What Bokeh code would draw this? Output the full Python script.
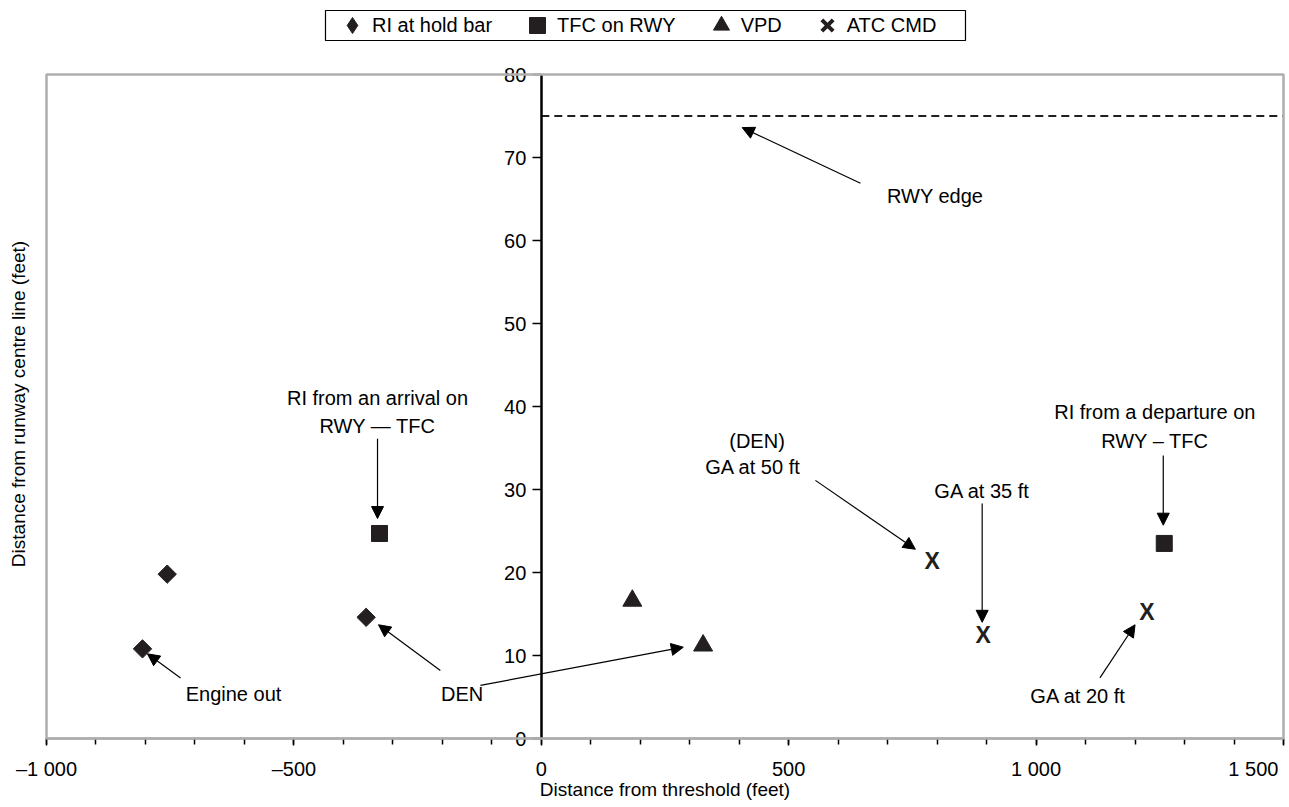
from bokeh.plotting import figure
from bokeh.models import (Range1d, LinearAxis, SingleIntervalTicker, FixedTicker, BoxAnnotation,
                          Arrow, NormalHead, Legend, LegendItem, ColumnDataSource)
from bokeh.core.properties import value
from bokeh.embed import file_html
from bokeh.resources import INLINE

# ---------------- data ----------------
hold_x = [-756, -806, -354]
hold_y = [19.8, 10.8, 14.6]
tfc_x = [-327, 1259]
tfc_y = [24.7, 23.5]
vpd_x = [184, 327]
vpd_y = [16.6, 11.2]
atc_x = [790, 893, 1224]
atc_y = [21.4, 12.5, 15.2]

rwy_edge_x = [0, 1500]
rwy_edge_y = [75, 75]

x_ticks = [-1000, -500, 0, 500, 1000, 1500]
x_tick_labels = ["\u20131 000", "\u2013500", "0", "500", "1 000", "1 500" + "\u00a0" * 2]
y_ticks = [0, 10, 20, 30, 40, 50, 60, 70, 80]

legend_labels = ["RI at hold bar", "TFC on RWY", "VPD", "ATC CMD"]

note_text = ["RWY edge", "RI from an arrival on", "RWY \u2014 TFC", "Engine out", "DEN",
             "(DEN)", "GA at 50 ft", "GA at 35 ft", "RI from a departure on",
             "RWY \u2013 TFC", "GA at 20 ft"]
note_x = [796, -331, -331, -622, -160, 436, 428, 891, 1240, 1240, 1085]
note_y = [65.4, 41.0, 37.7, 5.4, 5.4, 35.8, 32.7, 29.8, 39.3, 35.8, 5.1]

arrow_x0 = [645, -331, -729, -204, -123, 554, 891, 1257, 1129]
arrow_y0 = [66.9, 36.1, 7.3, 8.2, 6.4, 31.1, 28.3, 34.1, 7.3]
arrow_x1 = [406, -331, -796, -329, 287, 756, 891, 1257, 1200]
arrow_y1 = [73.6, 26.5, 10.2, 13.7, 11.0, 22.8, 14.0, 25.7, 13.7]

X_MIN, X_MAX, Y_MIN, Y_MAX = -1000, 1500, 0, 80

# ---------------- layout (pixels) ----------------
W, H = 1289, 807
FL, FR, FT, FB = 46, 1283, 74, 738          # chart box edges on the page
LEG_L, LEG_R, LEG_T, LEG_B = 325, 965, 10, 40  # legend frame on the page
xu = (X_MAX - X_MIN) / (FR - FL)
yu = (Y_MAX - Y_MIN) / (FB - FT)
x0_data = X_MIN - FL * xu
y_top_data = Y_MAX + FT * yu
x_range = Range1d(x0_data, X_MAX + (W - FR) * xu)
y_range = Range1d(Y_MIN - (H - FB) * yu, y_top_data)


def px_x(px):
    return x0_data + px * xu


def px_y(py):
    return y_top_data - py * yu


FONT = "Liberation Sans"
INK = "#231f20"
GREY = "#aeaeae"

p = figure(width=W, height=H, x_range=x_range, y_range=y_range,
           output_backend="svg", toolbar_location=None,
           x_axis_location=None, y_axis_location=None, min_border=0)
p.grid.visible = False
p.outline_line_color = None
p.background_fill_color = "white"
p.border_fill_color = "white"

# grey chart box
p.add_layout(BoxAnnotation(left=X_MIN, right=X_MAX, bottom=Y_MIN, top=Y_MAX,
                           fill_alpha=0, line_color=GREY, line_alpha=1, line_width=2.5))

# x axis along y = 0
xa = LinearAxis(fixed_location=0, bounds=(X_MIN, X_MAX),
                ticker=SingleIntervalTicker(interval=500, num_minor_ticks=5),
                major_label_overrides={t: l for t, l in zip(x_ticks, x_tick_labels)},
                axis_line_color=GREY, axis_line_width=2.5,
                major_tick_line_color="black", major_tick_line_width=1.5,
                major_tick_out=7, major_tick_in=0,
                minor_tick_line_color="black", minor_tick_line_width=1.5,
                minor_tick_out=6, minor_tick_in=0,
                major_label_standoff=12,
                major_label_text_font=FONT, major_label_text_font_size="20px",
                major_label_text_color="black",
                axis_label="Distance from threshold (feet)",
                axis_label_text_font=FONT, axis_label_text_font_size="19px",
                axis_label_text_font_style="normal", axis_label_text_color="black",
                axis_label_standoff=-4)
p.add_layout(xa, "below")

# y axis along x = 0
ya = LinearAxis(fixed_location=0, bounds=(Y_MIN, Y_MAX), ticker=FixedTicker(ticks=y_ticks),
                axis_line_color="black", axis_line_width=2.5,
                major_tick_line_color="black", major_tick_line_width=1.5,
                major_tick_out=9, major_tick_in=0,
                minor_tick_line_color=None,
                major_label_standoff=6,
                major_label_text_font=FONT, major_label_text_font_size="20px",
                major_label_text_color="black")
p.add_layout(ya, "left")

# y axis title at the left edge of the box
yl = LinearAxis(fixed_location=X_MIN, ticker=FixedTicker(ticks=[]), axis_line_color=None,
                major_tick_line_color=None, minor_tick_line_color=None,
                major_tick_out=0, major_tick_in=0,
                major_label_text_font_size="0px",
                axis_label="Distance from runway centre line (feet)",
                axis_label_text_font=FONT, axis_label_text_font_size="19px",
                axis_label_text_font_style="normal", axis_label_text_color="black",
                axis_label_standoff=18)
p.add_layout(yl, "left")

# runway edge
p.line(rwy_edge_x, rwy_edge_y, line_color=INK, line_width=2, line_dash="8 5")

# markers
p.scatter(hold_x, hold_y, marker="square", angle=0.785398, size=13,
          fill_color=INK, line_color=INK)
p.scatter(tfc_x, tfc_y, marker="square", size=16, fill_color=INK, line_color=INK)
p.scatter(vpd_x, vpd_y, marker="triangle", size=19, fill_color=INK, line_color=INK)
p.text(x=atc_x, y=atc_y, text=["X"] * len(atc_x), text_font=value(FONT),
       text_font_size=value("23px"), text_font_style="bold", text_align="center",
       text_baseline="middle", text_color=INK)

# legend key glyphs (not plotted: NaN positions)
nan = [float("nan")]
k_hold = p.scatter(nan, nan, marker="diamond", size=16, fill_color=INK, line_color=INK)
k_tfc = p.scatter(nan, nan, marker="square", size=16, fill_color=INK, line_color=INK)
k_vpd = p.scatter(nan, nan, marker="triangle", size=16, fill_color=INK, line_color=INK)
k_atc = p.scatter(nan, nan, marker="x", size=16, line_color=INK, line_width=4)

# arrows
asrc = ColumnDataSource(dict(x0=arrow_x0, y0=arrow_y0, x1=arrow_x1, y1=arrow_y1))
p.add_layout(Arrow(end=NormalHead(size=12, fill_color="black", line_color="black"),
                   x_start="x0", y_start="y0", x_end="x1", y_end="y1", source=asrc,
                   line_color="black", line_width=1.2))

# annotation texts
p.text(x=note_x, y=note_y, text=note_text, text_font=value(FONT),
       text_font_size=value("20px"), text_align="center", text_baseline="middle",
       text_color="black")

# legend frame + legend
p.add_layout(BoxAnnotation(left=px_x(LEG_L), right=px_x(LEG_R), bottom=px_y(LEG_B),
                           top=px_y(LEG_T), fill_color="white", fill_alpha=1,
                           line_color="black", line_alpha=1, line_width=1.2))
legend = Legend(items=[LegendItem(label=lab, renderers=[r]) for lab, r in
                       zip(legend_labels, [k_hold, k_tfc, k_vpd, k_atc])],
                orientation="horizontal",
                location=(332, H - (LEG_T + LEG_B) // 2 - 20),
                border_line_color=None, background_fill_alpha=0,
                padding=0, spacing=25, label_standoff=0, glyph_width=40, glyph_height=40,
                label_height=40,
                label_text_font=FONT, label_text_font_size="20px",
                label_text_color="black", margin=0)
p.add_layout(legend, "center")

open("out.html", "w").write(file_html(p, INLINE))
